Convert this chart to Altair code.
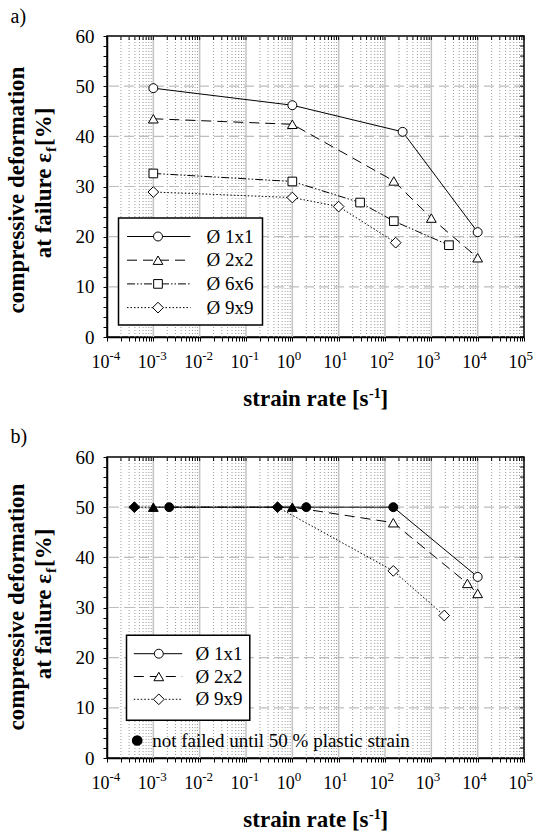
import altair as alt
import pandas as pd

FONT = "Liberation Serif"
W, H = 417, 301

RATE_MIN, RATE_MAX = 1e-4, 1e5
EPS_MIN, EPS_MAX = 0, 60

# ---------------- panel a) ----------------
a_1x1_rate = [1e-3, 1.0, 240, 1e4]
a_1x1_eps = [49.6, 46.2, 40.9, 20.9]
a_2x2_rate = [1e-3, 1.0, 155, 1000, 1e4]
a_2x2_eps = [43.5, 42.4, 31.1, 23.7, 15.8]
a_6x6_rate = [1e-3, 1.0, 29, 155, 2400]
a_6x6_eps = [32.6, 31.0, 26.8, 23.1, 18.3]
a_9x9_rate = [1e-3, 1.0, 10, 170]
a_9x9_eps = [28.9, 27.8, 26.0, 18.8]

# ---------------- panel b) ----------------
b_1x1_rate = [2.2e-3, 2.0, 151, 1e4]
b_1x1_eps = [50, 50, 50, 36.1]
b_1x1_held = [1, 1, 1, 0]
b_2x2_rate = [1e-3, 1.0, 151, 6000, 1e4]
b_2x2_eps = [50, 50, 46.9, 34.8, 32.8]
b_2x2_held = [1, 1, 0, 0, 0]
b_9x9_rate = [3.9e-4, 0.48, 151, 1900]
b_9x9_eps = [50, 50, 37.3, 28.4]
b_9x9_held = [1, 1, 0, 0]

labels_a = ["Ø 1x1", "Ø 2x2", "Ø 6x6", "Ø 9x9"]
labels_b = ["Ø 1x1", "Ø 2x2", "Ø 9x9"]
note_text = "not failed until 50 % plastic strain"
x_title_main = "strain rate [s"
x_title_sup = "-1"
x_title_end = "]"
y_title_1 = "compressive deformation"
y_title_2a = "at failure ε"
y_title_2b = "f"
y_title_2c = "[%]"
panel_tags = ["a)", "b)"]
y_major = [0, 10, 20, 30, 40, 50, 60]
decade_exps = [-4, -3, -2, -1, 0, 1, 2, 3, 4, 5]

STYLE = {
    "Ø 1x1": dict(shape="circle", dash=None, size=80),
    "Ø 2x2": dict(shape="triangle-up", dash=[10, 6], size=95),
    "Ø 6x6": dict(shape="square", dash=[8, 2, 1.5, 2, 1.5, 2], size=75),
    "Ø 9x9": dict(shape="diamond", dash=[1.5, 2], size=115),
}

ONE = pd.DataFrame({"k": [0]})
decades = [10.0 ** e for e in decade_exps]
minors = [k * 10.0 ** e for e in decade_exps[:-1] for k in range(2, 10)]
y_minor = list(range(0, 61, 2))

X_AXIS = alt.Axis(
    values=decades + minors, labels=False,
    tickSize=4, tickColor="black", tickWidth=1, domainColor="black", domainWidth=1.5,
    title="", grid=False,
)
Y_AXIS = alt.Axis(
    values=y_minor, labelExpr="datum.value % 10 == 0 ? datum.label : ''", labelOverlap=False,
    tickSize=4, tickColor="black", tickWidth=1, domainColor="black", domainWidth=1.5,
    labelFont=FONT, labelFontSize=19, labelColor="black", labelPadding=9,
    title="", grid=False,
)


def xs():
    return alt.X("rate:Q", scale=alt.Scale(type="log", domain=[RATE_MIN, RATE_MAX]), axis=X_AXIS)


def ys():
    return alt.Y("eps:Q", scale=alt.Scale(domain=[EPS_MIN, EPS_MAX]), axis=Y_AXIS)


def text(txt, x, y, size, weight="normal", angle=0, align="left", baseline="alphabetic"):
    return alt.Chart(ONE).mark_text(
        text=txt, font=FONT, fontSize=size, fontWeight=weight, angle=angle,
        align=align, baseline=baseline, color="black",
    ).encode(x=alt.value(x), y=alt.value(y))


def x_label_layers():
    df = pd.DataFrame({
        "rate": decades,
        "base": ["10"] * len(decades),
        "exp": [str(e) for e in decade_exps],
    })
    return [
        alt.Chart(df).mark_text(font=FONT, fontSize=18, align="right", baseline="alphabetic",
                                dx=2.5, color="black").encode(
            x=xs(), y=alt.value(H + 31), text="base:N"),
        alt.Chart(df).mark_text(font=FONT, fontSize=13, align="left", baseline="alphabetic",
                                dx=2.5, color="black").encode(
            x=xs(), y=alt.value(H + 23), text="exp:N"),
    ]


def x_title_layers():
    xe = 261.5
    yb = H + 68.5
    return [
        text(x_title_main, xe, yb, 23, "bold", align="right"),
        text(x_title_sup, xe + 0.5, yb - 8, 14, "bold"),
        text(x_title_end, xe + 12, yb, 23, "bold"),
    ]


def background_layers():
    return [
        alt.Chart(pd.DataFrame({"rate": minors})).mark_rule(
            color="#9a9a9a", strokeWidth=1, strokeDash=[1, 2]).encode(x=xs()),
        alt.Chart(pd.DataFrame({"rate": decades[1:-1]})).mark_rule(
            color="#c4c4c4", strokeWidth=1.5).encode(x=xs()),
        alt.Chart(pd.DataFrame({"eps": y_major[1:-1]})).mark_rule(
            color="#bdbdbd", strokeWidth=1.2, strokeDash=[10, 5]).encode(y=ys()),
        # mirrored ticks top and right
        alt.Chart(pd.DataFrame({"rate": decades + minors})).mark_rule(
            color="black", strokeWidth=1).encode(x=xs(), y=alt.value(0), y2=alt.value(4)),
        alt.Chart(pd.DataFrame({"eps": y_minor})).mark_rule(
            color="black", strokeWidth=1).encode(y=ys(), x=alt.value(W), x2=alt.value(W - 4)),
    ]


def legend_layers(names, box, rows_y, line_x, marker_x, text_x):
    layers = [alt.Chart(ONE).mark_rect(fill="white", stroke="black", strokeWidth=1.5).encode(
        x=alt.value(box[0]), x2=alt.value(box[1]), y=alt.value(box[2]), y2=alt.value(box[3]))]
    for name, yr in zip(names, rows_y):
        st = STYLE[name]
        rule_kw = dict(color="black", strokeWidth=1)
        if st["dash"]:
            rule_kw["strokeDash"] = st["dash"]
        layers.append(alt.Chart(ONE).mark_rule(**rule_kw).encode(
            x=alt.value(line_x[0]), x2=alt.value(line_x[1]), y=alt.value(yr)))
        layers.append(alt.Chart(ONE).mark_point(
            shape=st["shape"], size=st["size"], filled=True, fill="white", stroke="black",
            strokeWidth=1, opacity=1).encode(x=alt.value(marker_x), y=alt.value(yr)))
        layers.append(text(name, text_x, yr, 19, baseline="middle"))
    return layers


def series_layers(series):
    lines, pts = [], []
    for name, rate, eps, held in series:
        st = STYLE[name]
        df = pd.DataFrame({"rate": rate, "eps": eps, "held": held})
        kw = dict(color="black", strokeWidth=1)
        if st["dash"]:
            kw["strokeDash"] = st["dash"]
        lines.append(alt.Chart(df).mark_line(**kw).encode(x=xs(), y=ys()))
        open_df = df[df["held"] == 0]
        held_df = df[df["held"] == 1]
        pts.append(alt.Chart(open_df).mark_point(
            shape=st["shape"], size=st["size"], filled=True, fill="white", stroke="black",
            strokeWidth=1, opacity=1).encode(x=xs(), y=ys()))
        if len(held_df):
            pts.append(alt.Chart(held_df).mark_point(
                shape=st["shape"], size=st["size"], filled=True, fill="black", stroke="black",
                strokeWidth=1, opacity=1).encode(x=xs(), y=ys()))
    return lines[::-1] + pts[::-1]


def y_title_layers(center_y):
    return [
        text(y_title_1, -83.5, center_y, 23, "bold", 270, "center"),
        text(y_title_2a, -56.5, 117, 23, "bold", 270, "right"),
        text(y_title_2b, -51.5, 116, 15, "bold", 270, "left"),
        text(y_title_2c, -56.5, 110, 23, "bold", 270, "left"),
    ]


# ---- panel a
series_a = [
    ("Ø 1x1", a_1x1_rate, a_1x1_eps, [0] * len(a_1x1_rate)),
    ("Ø 2x2", a_2x2_rate, a_2x2_eps, [0] * len(a_2x2_rate)),
    ("Ø 6x6", a_6x6_rate, a_6x6_eps, [0] * len(a_6x6_rate)),
    ("Ø 9x9", a_9x9_rate, a_9x9_eps, [0] * len(a_9x9_rate)),
]
layers_a = background_layers()
layers_a.append(alt.Chart(ONE).mark_rect(fill="white", fillOpacity=0).encode(
    x=alt.value(-106), x2=alt.value(-105), y=alt.value(-35), y2=alt.value(-34)))
layers_a += legend_layers(labels_a, (11.5, 155.5, 182, 289),
                          [200.5 + 23.7 * i for i in range(4)], (20, 83.5), 51, 99.5)
layers_a += series_layers(series_a)
layers_a += x_label_layers() + x_title_layers()
layers_a += y_title_layers(154)
layers_a.append(text(panel_tags[0], -96.5, -13.5, 20))
panel_a = alt.layer(*layers_a).properties(width=W, height=H)

# ---- panel b
series_b = [
    ("Ø 1x1", b_1x1_rate, b_1x1_eps, b_1x1_held),
    ("Ø 2x2", b_2x2_rate, b_2x2_eps, b_2x2_held),
    ("Ø 9x9", b_9x9_rate, b_9x9_eps, b_9x9_held),
]
layers_b = background_layers()
layers_b += legend_layers(labels_b, (19.5, 142.8, 178.3, 263.3),
                          [196.7 + 22.8 * i for i in range(3)], (26.8, 75.2), 51.8, 88.5)
layers_b += series_layers(series_b)
layers_b.append(alt.Chart(ONE).mark_point(
    shape="circle", size=115, filled=True, fill="black", opacity=1).encode(
    x=alt.value(30.2), y=alt.value(283.5)))
layers_b.append(text(note_text, 45.2, 284, 19, baseline="middle"))
layers_b += x_label_layers() + x_title_layers()
layers_b += y_title_layers(150)
layers_b.append(text(panel_tags[1], -96.5, -14.5, 20))
panel_b = alt.layer(*layers_b).properties(width=W, height=H)

chart = alt.vconcat(panel_a, panel_b, spacing=120, bounds="flush").properties(
    padding=0, background="white"
).configure_view(stroke="black", strokeWidth=1.5)

chart.save("out.html", embed_options={"renderer": "svg", "actions": False})
